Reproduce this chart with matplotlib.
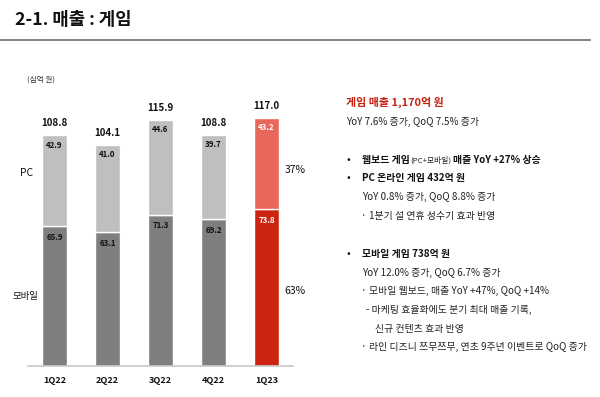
import matplotlib
matplotlib.use("Agg")
import matplotlib.pyplot as plt
from matplotlib.lines import Line2D

plt.rcParams['font.family'] = ['Noto Sans CJK KR', 'DejaVu Sans']

quarters = ['1Q22', '2Q22', '3Q22', '4Q22', '1Q23']
mobile = [65.9, 63.1, 71.3, 69.2, 73.8]
pc = [42.9, 41.0, 44.6, 39.7, 43.2]
totals = [108.8, 104.1, 115.9, 108.8, 117.0]
share_labels = ['37%', '63%']

W, H = 600, 397
fig = plt.figure(figsize=(W / 100, H / 100), dpi=100)
fig.patch.set_facecolor('white')

def fx(x):
    return x / W

def fy(y):
    return 1 - y / H

# Title and rule
fig.text(fx(15), fy(20), '2-1. 매출 : 게임', fontsize=12.8, fontweight='bold',
         va='center', ha='left', color='#111111')
fig.add_artist(Line2D([fx(0), fx(590)], [fy(40), fy(40)], color='#6e6e6e', lw=1.2))

# Bar chart
ax = fig.add_axes([fx(28), 31 / H, 265 / W, 276 / H])
x = list(range(len(quarters)))
mob_colors = ['#7f7f7f'] * 4 + ['#cc2410']
pc_colors = ['#bfbfbf'] * 4 + ['#e8665a']
lbl_colors = ['#111111'] * 4 + ['white']
ax.bar(x, mobile, width=0.47, color=mob_colors, edgecolor='white', linewidth=1.0)
ax.bar(x, pc, bottom=mobile, width=0.47, color=pc_colors, edgecolor='white', linewidth=1.0)
ax.set_xlim(-0.5, 4.5)
ax.set_ylim(0, 130)
for s in ['top', 'right', 'left']:
    ax.spines[s].set_visible(False)
ax.spines['bottom'].set_color('#c8c8c8')
ax.spines['bottom'].set_linewidth(1.2)
ax.set_yticks([])
ax.set_xticks(x)
ax.set_xticklabels(quarters, fontsize=6.5, fontweight='bold', color='#111111')
ax.tick_params(axis='x', length=0, pad=7)
ax.patch.set_alpha(0)

for i in x:
    ax.annotate(f'{totals[i]:.1f}', (i, mobile[i] + pc[i]), xytext=(0, 8.6),
                textcoords='offset points', ha='center', va='center',
                fontsize=7, fontweight='bold', color='#111111')
    ax.annotate(f'{pc[i]:.1f}', (i, mobile[i] + pc[i]), xytext=(0, -7.2),
                textcoords='offset points', ha='center', va='center',
                fontsize=5.7, fontweight='bold', color=lbl_colors[i])
    ax.annotate(f'{mobile[i]:.1f}', (i, mobile[i]), xytext=(0, -8.0),
                textcoords='offset points', ha='center', va='center',
                fontsize=5.7, fontweight='bold', color=lbl_colors[i])

# Left labels
fig.text(fx(27), fy(80), '(십억 원)', fontsize=5.5, color='#333333', va='center', ha='left')
fig.text(fx(27), fy(173), 'PC', fontsize=7.5, color='#111111', va='center', ha='center')
fig.text(fx(25.5), fy(297), '모바일', fontsize=6.8, color='#111111', va='center', ha='center')
fig.text(fx(295), fy(170), share_labels[0], fontsize=7.5, color='#111111', va='center', ha='center')
fig.text(fx(295), fy(291), share_labels[1], fontsize=7.5, color='#111111', va='center', ha='center')

# Right text block
fs = 7.1
fig.text(fx(346), fy(102), '게임 매출 1,170억 원', fontsize=7.9, fontweight='bold',
         color='#c8200e', va='center', ha='left')
fig.text(fx(346), fy(122), 'YoY 7.6% 증가, QoQ 7.5% 증가', fontsize=fs,
         color='#222222', va='center', ha='left')

fig.text(fx(348), fy(160), '•', fontsize=fs + 1, color='#111111', va='center', ha='center')
t = fig.text(fx(362), fy(160), '웹보드 게임', fontsize=fs, fontweight='bold',
             color='#111111', va='center', ha='left')
fig.canvas.draw()
r = fig.canvas.get_renderer()
bb = t.get_window_extent(r)
t2 = fig.text(bb.x1 / W, fy(160), '(PC+모바일)', fontsize=5.6, color='#222222',
              va='center', ha='left')
bb2 = t2.get_window_extent(r)
fig.text(bb2.x1 / W + 2 / W, fy(160), '매출 YoY +27% 상승', fontsize=fs, fontweight='bold',
         color='#111111', va='center', ha='left')

fig.text(fx(348), fy(178), '•', fontsize=fs + 1, color='#111111', va='center', ha='center')
fig.text(fx(362), fy(178), 'PC 온라인 게임 432억 원', fontsize=fs, fontweight='bold',
         color='#111111', va='center', ha='left')
fig.text(fx(362), fy(197), 'YoY 0.8% 증가, QoQ 8.8% 증가', fontsize=fs,
         color='#222222', va='center', ha='left')
fig.text(fx(364), fy(216), '·', fontsize=fs, color='#222222', va='center', ha='center')
fig.text(fx(369), fy(216), '1분기 설 연휴 성수기 효과 반영', fontsize=fs,
         color='#222222', va='center', ha='left')

fig.text(fx(348), fy(254), '•', fontsize=fs + 1, color='#111111', va='center', ha='center')
fig.text(fx(362), fy(254), '모바일 게임 738억 원', fontsize=fs, fontweight='bold',
         color='#111111', va='center', ha='left')
fig.text(fx(362), fy(273), 'YoY 12.0% 증가, QoQ 6.7% 증가', fontsize=fs,
         color='#222222', va='center', ha='left')
fig.text(fx(364), fy(291), '·', fontsize=fs, color='#222222', va='center', ha='center')
fig.text(fx(369), fy(291), '모바일 웹보드, 매출 YoY +47%, QoQ +14%', fontsize=fs,
         color='#222222', va='center', ha='left')
fig.text(fx(366), fy(310), '- 마케팅 효율화에도 분기 최대 매출 기록,', fontsize=fs,
         color='#222222', va='center', ha='left')
fig.text(fx(375), fy(329), '신규 컨텐츠 효과 반영', fontsize=fs,
         color='#222222', va='center', ha='left')
fig.text(fx(364), fy(347), '·', fontsize=fs, color='#222222', va='center', ha='center')
fig.text(fx(369), fy(347), '라인 디즈니 쯔무쯔무, 연초 9주년 이벤트로 QoQ 증가', fontsize=fs,
         color='#222222', va='center', ha='left')

fig.savefig('out.png', dpi=100, facecolor='white')
